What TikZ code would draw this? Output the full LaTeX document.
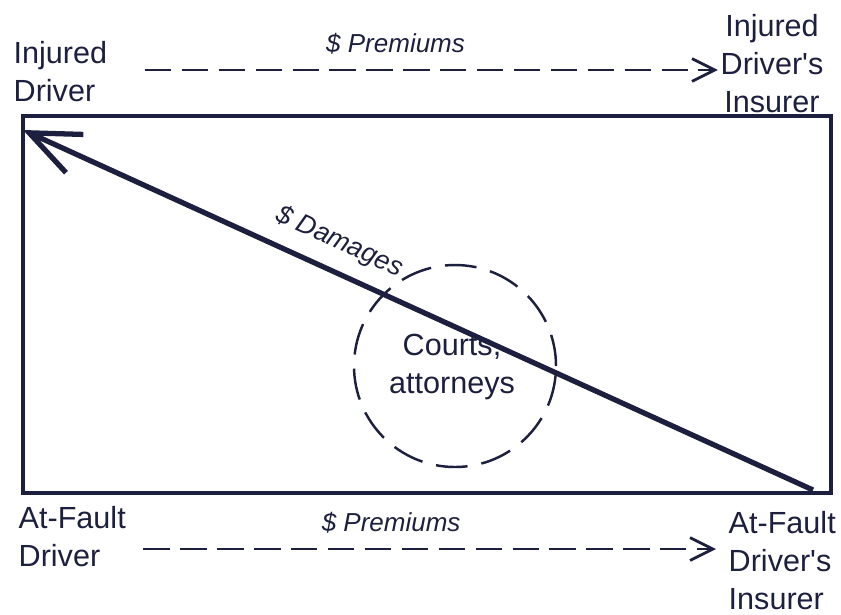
\documentclass[tikz,border=0pt]{standalone}
\usepackage{fontspec}
\setmainfont{Liberation Sans}
\usetikzlibrary{arrows.meta}
\definecolor{ink}{RGB}{28,32,62}
\begin{document}
\begin{tikzpicture}[every node/.style={font=\fontsize{8.7}{10.8}\selectfont, text=ink, inner sep=0pt},
  party/.style={align=left}, money/.style={font=\fontsize{7.4}{9}\selectfont\itshape},
  flow/.style={draw=ink, line width=0.6pt, dash pattern=on 7.5pt off 3pt, -{Straight Barb[length=6.5pt, width=6.5pt, line width=0.8pt]}}]
\useasboundingbox (0,0) rectangle (8.41,6.14);
% Frame
\node[draw=ink, line width=0.9pt, minimum width=8.08cm, minimum height=3.77cm] (box) at (4.27,3.095) {};
% Upper side
\node[party, anchor=west] (id) at (0.13,5.42) {Injured\\Driver};
\node[align=center] (ii) at (7.72,5.50) {Injured\\Driver\textquotesingle s\\Insurer};
\draw[flow, shorten <=0.37cm, shorten >=0.02cm] ([yshift=0.02cm]id.east) -- ([yshift=0.02cm]id.east -| ii.west) node[pos=0.47, above=0.15cm, money] {\$ Premiums};
% Lower side
\node[party, anchor=west] (fd) at (0.18,0.77) {At-Fault\\Driver};
\node[party, anchor=west] (fi) at (7.28,0.53) {At-Fault\\Driver\textquotesingle s\\Insurer};
\draw[flow, shorten <=0.17cm, shorten >=0.12cm] ([yshift=-0.12cm]fd.east) -- ([yshift=-0.12cm]fd.east -| fi.west) node[pos=0.44, above=0.15cm, money] {\$ Premiums};
% Damages through the courts
\node[draw=ink, circle, line width=0.7pt, dash pattern=on 9pt off 4pt, minimum size=2.02cm] (court) at (4.55,2.48) {};
\node[align=center] (ca) at (4.52,2.47) {Courts,\\attorneys};
\coordinate (pay) at (8.13,1.24);
\coordinate (get) at (0.23,4.84);
\draw[{Straight Barb[length=0.5cm, width=0.42cm]}-, ink, line width=1.5pt] (get) -- (pay) node[pos=0.385, sloped, above=0.14cm, font=\fontsize{7.6}{9}\selectfont\itshape] {\$ Damages};
\end{tikzpicture}
\end{document}
